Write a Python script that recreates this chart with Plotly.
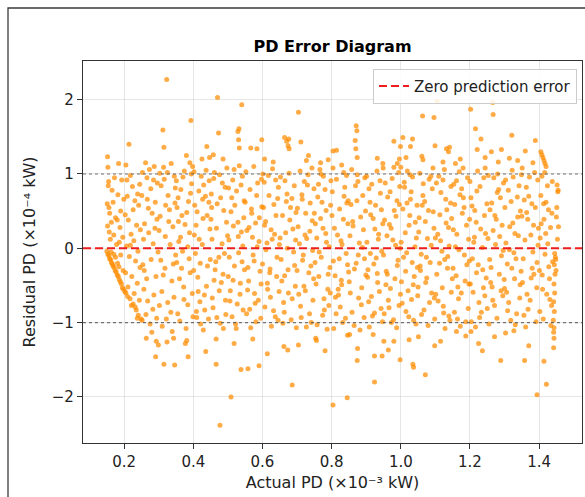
import plotly.graph_objects as go

# ---- data: Actual PD (x10^-3 kW) and residual PD (x10^-4 kW) ----
x_b01 = [0.152,0.153,0.155,0.154,0.151,0.156,0.158,0.152,0.157,0.160,0.163,0.168,0.170,0.175,0.178,0.184,0.182,0.188,0.190,0.193,0.196,0.199,0.186,0.172,0.165,0.180,
         0.150,0.153,0.156,0.158,0.161,0.163,0.166,0.168,0.171,0.174,0.177,0.180,0.183,0.186,0.189,0.192,0.195,0.198,
         0.162,0.175,0.181,0.190,0.197,0.185,0.170]
y_b01 = [1.23,1.09,0.90,0.84,0.60,0.55,0.47,0.30,0.22,0.12,0.35,0.62,0.18,0.41,0.05,1.14,0.72,0.28,0.50,0.92,0.15,0.66,0.08,0.95,0.78,0.38,
         -0.04,-0.08,-0.10,-0.14,-0.15,-0.19,-0.21,-0.24,-0.26,-0.30,-0.32,-0.36,-0.38,-0.42,-0.45,-0.48,-0.53,-0.55,
         -0.05,-0.12,-0.20,-0.09,-0.30,-0.25,-0.08]
x_b02 = [0.214,0.205,0.218,0.224,0.209,0.231,0.242,0.203,0.212,0.236,0.247,0.220,0.228,0.207,0.240,0.215,0.233,0.246,0.204,0.222,
         0.238,0.211,0.229,0.244,0.217,0.235,0.249,0.226,0.241,0.202,0.232,0.208,0.245,0.226,0.218,0.239,0.205,0.210,0.221,0.238]
y_b02 = [1.40,1.12,0.98,0.83,0.70,0.64,0.58,0.45,0.38,0.31,0.25,0.19,0.10,0.03,-0.04,-0.11,-0.17,-0.26,-0.33,-0.38,
         -0.47,-0.52,-0.61,-0.70,-0.68,-0.83,-0.95,-0.75,-0.90,-0.58,-0.79,0.92,0.86,0.52,0.04,0.73,-0.60,-0.65,-0.77,-0.94]
x_b03 = [0.262,0.281,0.254,0.296,0.268,0.287,0.259,0.275,0.292,0.251,0.284,0.266,0.299,0.271,0.257,0.290,0.278,0.263,0.295,
         0.253,0.286,0.270,0.264,0.293,0.291,0.277,0.256,0.283,0.298,0.265,0.273,0.289,0.252,0.280,0.267,0.294,0.258,0.285]
y_b03 = [1.15,0.47,-0.22,0.88,-0.71,1.10,0.33,-1.02,-0.38,0.71,0.06,0.95,-1.30,0.21,-0.55,0.62,-0.15,-0.89,0.39,
         1.02,-0.63,0.54,-1.21,-1.25,-1.46,0.80,0.12,-0.82,-0.05,-0.41,1.06,0.27,-0.97,-1.13,0.66,-0.94,-0.30,0.92]
x_b04 = [0.323,0.312,0.315,0.314,0.315,0.324,0.343,0.346,
         0.307,0.338,0.319,0.345,0.302,0.331,0.349,0.310,0.327,0.341,0.304,0.335,0.318,0.347,0.325,0.309,
         0.339,0.316,0.333,0.301,0.344,0.322,0.306,0.329,0.348,0.313,0.336,0.320,0.342,0.303,0.326]
y_b04 = [2.27,1.59,1.36,1.09,-1.56,-1.26,-1.21,-1.57,
         0.84,-0.44,0.16,0.97,-0.77,0.52,-0.09,-1.05,0.71,0.29,0.43,-0.86,-0.27,0.61,1.02,-0.58,
         -1.12,0.93,0.05,0.24,-0.66,-0.95,-0.16,0.36,0.81,-0.36,1.14,0.58,-0.21,1.01,-0.73]
x_b05 = [0.393,0.380,0.390,0.377,0.381,0.385,0.398,
         0.356,0.372,0.389,0.361,0.395,0.367,0.352,0.384,0.374,0.358,0.391,0.364,0.379,0.353,0.397,0.369,
         0.386,0.360,0.376,0.394,0.355,0.370,0.388,0.363,0.381,0.399,0.357,0.373,0.392,0.366,0.351,0.384]
y_b05 = [1.72,1.25,1.15,-1.28,-1.24,-1.46,1.10,
         0.68,-0.52,0.21,-0.98,0.87,0.44,-0.19,-0.76,1.04,0.09,-0.33,0.79,-1.08,0.55,-0.61,-0.04,
         0.63,-0.41,0.32,1.00,-0.88,0.96,-0.14,0.15,0.48,-0.92,0.36,-0.69,0.74,-0.27,0.91,0.02]
x_b06 = [0.439,0.436,0.425,0.447,
         0.404,0.432,0.417,0.446,0.409,0.428,0.441,0.402,0.421,0.435,0.413,0.448,0.406,0.430,0.419,0.444,0.411,
         0.426,0.438,0.401,0.416,0.449,0.423,0.408,0.433,0.445,0.414,0.429,0.403,0.440,0.420,0.437,0.410,0.427]
y_b06 = [1.37,-1.39,1.20,1.22,
         0.58,-0.63,0.12,0.91,-0.85,0.40,-0.24,1.03,-1.02,0.70,-0.39,0.26,-0.07,0.85,-0.72,-0.95,0.49,
         0.05,-0.51,-0.30,0.77,-0.15,0.97,0.31,-0.83,0.62,-0.58,-1.10,0.18,0.44,-0.20,1.05,-0.93,0.66]
x_b07 = [0.470,0.473,0.477,0.466,0.466,0.458,0.486,
         0.452,0.481,0.467,0.494,0.459,0.488,0.474,0.455,0.497,0.463,0.483,0.451,0.478,0.492,0.469,0.457,
         0.486,0.499,0.461,0.475,0.490,0.454,0.484,0.468,0.496,0.460,0.479,0.493,0.465,0.453,0.487,0.476]
y_b07 = [2.03,1.55,-2.38,-1.56,-1.22,1.26,1.20,
         0.73,-0.46,0.27,-0.89,0.94,0.51,-0.12,-0.67,1.08,-0.29,0.06,0.39,-1.01,0.82,0.60,-0.80,
         -0.35,0.17,1.02,-0.57,-0.07,0.12,0.88,-0.93,0.35,-0.43,0.68,-0.70,-0.18,0.55,-1.08,0.99]
x_b08 = [0.540,0.532,0.529,0.531,0.533,0.509,0.538,0.518,
         0.514,0.541,0.506,0.529,0.547,0.522,0.503,0.536,0.518,0.544,0.509,0.531,0.525,0.501,0.539,0.512,0.548,
         0.520,0.533,0.507,0.543,0.527,0.516,0.538,0.504,0.524,0.546,0.511,0.535,0.519,0.542,0.502,0.530,0.515]
y_b08 = [1.93,1.61,1.57,1.46,1.35,-2.00,-1.63,-1.28,
         0.92,-0.18,-0.71,0.35,0.64,-1.02,0.11,-0.47,1.06,-0.83,0.49,-0.06,0.77,-0.38,0.22,-0.92,-0.29,
         0.58,1.11,-0.57,0.03,-0.75,0.30,0.85,-0.12,-1.08,0.41,0.68,-0.62,-0.24,0.97,0.81,0.16,-0.43]
x_b09 = [0.566,0.584,0.598,0.558,0.590,0.572,
         0.583,0.558,0.595,0.569,0.552,0.577,0.590,0.563,0.586,0.555,0.573,0.598,0.566,0.580,0.560,0.593,
         0.575,0.550,0.588,0.571,0.597,0.557,0.581,0.564,0.591,0.576,0.554,0.585,0.568,0.596,0.561,0.579]
y_b09 = [1.35,1.34,1.46,-1.62,-1.58,-1.22,
         0.71,-0.26,-0.94,0.47,1.03,-0.61,0.09,-0.82,0.88,0.24,-0.09,0.56,-1.07,0.34,-0.44,-0.31,
         1.10,0.62,-0.70,0.15,0.93,-0.56,-0.99,0.79,0.41,-0.17,-0.88,0.02,0.53,-0.48,0.28,-0.74]
x_b10 = [0.614,0.606,0.631,
         0.621,0.644,0.605,0.632,0.613,0.639,0.626,0.600,0.648,0.617,0.609,0.635,0.642,0.623,0.603,0.629,0.614,
         0.646,0.637,0.607,0.625,0.641,0.619,0.610,0.633,0.601,0.645,0.628,0.615,0.638,0.606,0.649,0.622]
y_b10 = [-1.42,1.20,1.16,
         -0.33,0.67,0.89,-0.84,0.07,0.44,-1.05,-0.21,-0.58,0.98,0.36,0.19,-0.12,-0.66,0.55,1.07,-0.47,
         0.82,-0.92,-0.79,0.25,-0.38,0.71,-0.02,0.59,1.00,-0.97,0.12,-0.55,0.92,0.31,0.05,-0.28]
x_b11 = [0.664,0.670,0.676,0.674,0.677,0.662,0.673,0.686,
         0.688,0.661,0.677,0.654,0.695,0.669,0.683,0.658,0.692,0.674,0.651,0.686,0.665,0.698,0.679,
         0.656,0.671,0.690,0.663,0.681,0.696,0.652,0.675,0.667,0.693,0.659,0.685,0.672,0.697,0.664]
y_b11 = [1.49,1.44,1.47,1.38,1.34,-1.32,-1.37,-1.84,
         0.26,-0.73,1.01,-0.15,-0.51,0.63,-0.96,0.44,0.84,-0.29,0.14,-0.68,0.91,-1.07,0.38,
         -0.44,0.73,-0.05,-0.86,0.55,0.11,0.96,-0.60,0.21,-0.23,-1.01,0.67,0.00,0.48,-0.37]
x_b12 = [0.704,0.711,0.733,0.704,0.727,
         0.705,0.730,0.718,0.744,0.709,0.736,0.723,0.748,0.701,0.727,0.714,0.740,0.732,0.707,0.746,0.720,0.738,
         0.712,0.703,0.725,0.743,0.716,0.734,0.749,0.710,0.728,0.741,0.721,0.700,0.737,0.715,0.745,0.724]
y_b12 = [1.83,1.43,1.25,-1.30,1.18,
         -0.62,0.85,-0.09,0.37,1.04,-0.88,0.18,-0.41,0.54,-1.06,0.72,-0.24,0.99,0.06,-0.70,-0.51,0.61,
         -0.93,0.29,0.47,1.08,-0.16,-0.33,0.80,-0.78,0.13,-1.00,0.90,-0.30,0.23,0.66,-0.03,-0.57]
x_b13 = [0.754,0.756,0.781,0.790,0.768,
         0.792,0.753,0.776,0.763,0.785,0.797,0.758,0.770,0.781,0.750,0.789,0.766,0.795,0.774,0.760,0.783,0.755,
         0.778,0.798,0.768,0.787,0.752,0.772,0.793,0.762,0.779,0.757,0.790,0.769,0.796,0.784,0.764,0.775]
y_b13 = [-1.21,-1.24,-1.38,1.19,1.15,
         -0.77,0.33,0.97,-0.38,0.08,0.58,-1.03,-0.12,0.79,0.47,-0.55,1.06,-0.26,-0.90,0.69,0.20,-0.48,
         -0.68,0.91,0.40,-1.09,-0.19,0.62,0.02,0.86,-0.83,0.14,-0.35,1.00,-0.60,0.51,-0.05,0.27]
x_b14 = [0.804,0.845,0.804,0.814,0.846,0.829,
         0.817,0.840,0.802,0.828,0.847,0.811,0.835,0.822,0.806,0.844,0.830,0.814,0.849,0.825,0.801,0.838,0.819,
         0.808,0.842,0.832,0.804,0.823,0.846,0.813,0.836,0.827,0.810,0.843,0.820,0.834,0.805,0.848,0.829]
y_b14 = [-2.11,-2.01,1.31,1.32,-1.17,1.12,
         0.18,-0.94,0.76,-0.43,0.33,-0.66,1.02,-0.14,-1.08,0.61,0.05,0.93,-0.32,-0.79,0.44,0.82,-0.55,
         0.27,-0.07,-1.00,1.08,0.53,-0.22,-0.88,0.70,0.10,-0.37,0.98,-0.63,0.39,-0.17,0.64,-0.49]
x_b15 = [0.871,0.873,0.868,0.870,0.874,0.852,0.874,0.875,
         0.859,0.884,0.871,0.896,0.853,0.878,0.890,0.865,0.899,0.856,0.874,0.887,0.862,0.894,0.880,
         0.851,0.869,0.892,0.877,0.858,0.886,0.866,0.898,0.873,0.854,0.882,0.861,0.895,0.876,0.889]
y_b15 = [1.65,1.58,1.45,1.34,1.22,-1.16,-1.51,-1.35,
         -0.86,0.42,-0.20,0.95,0.17,-0.67,0.71,-1.04,-0.36,0.59,0.99,-0.53,0.30,-0.93,0.07,
         -0.45,0.84,0.25,-0.09,1.06,-0.76,-0.28,0.50,0.64,-0.60,-1.10,0.36,-0.14,0.90,0.01]
x_b16 = [0.924,0.924,0.946,0.920,0.948,0.932,
         0.927,0.904,0.943,0.916,0.935,0.909,0.948,0.922,0.901,0.938,0.913,0.931,0.945,0.907,0.925,0.941,0.918,
         0.902,0.933,0.947,0.911,0.929,0.940,0.920,0.905,0.936,0.915,0.944,0.924,0.908,0.932,0.949,0.912]
y_b16 = [-1.80,-1.45,-1.45,-1.16,1.14,1.21,
         0.58,-0.39,-0.81,0.86,0.12,-1.06,0.33,-0.21,0.97,-0.58,0.45,1.04,-0.04,-0.72,0.26,0.74,-0.91,
         0.08,-0.46,-0.99,0.62,-0.13,0.91,0.40,-0.29,0.19,-0.65,0.52,-0.87,0.80,-0.34,1.08,-0.07]
x_b17 = [0.951,0.964,0.980,0.998,0.980,0.999,0.996,0.990,
         0.990,0.962,0.979,0.953,0.997,0.970,0.985,0.958,0.994,0.966,0.981,0.950,0.975,0.999,0.960,0.988,0.972,
         0.955,0.983,0.964,0.996,0.977,0.952,0.992,0.969,0.986,0.957,0.980,0.998,0.973,0.961,0.989,0.967,0.995]
y_b17 = [-1.25,-1.37,-1.25,-1.50,1.44,1.37,1.20,1.14,
         -0.23,0.69,-0.96,0.38,0.83,-0.54,0.04,-0.31,1.02,-0.80,0.51,-0.09,0.94,-0.62,0.17,-1.07,0.27,
         0.88,-0.41,-0.70,0.59,0.11,-0.88,-0.16,0.76,0.43,-0.49,1.09,0.00,-1.00,-0.35,0.64,0.32,-0.77]
x_b18 = [1.006,1.034,1.028,1.015,1.035,1.037,1.024,
         1.006,1.031,1.019,1.045,1.002,1.037,1.024,1.011,1.048,1.028,1.015,1.041,1.008,1.034,1.021,1.000,1.044,
         1.026,1.013,1.039,1.004,1.030,1.047,1.017,1.036,1.010,1.023,1.042,1.001,1.033,1.018,1.049,1.027,1.014]
y_b18 = [1.49,1.47,1.37,1.22,-1.56,-1.60,-1.23,
         0.53,-0.69,1.04,0.14,-0.45,-0.97,0.31,0.82,-0.26,0.66,-0.85,0.02,-0.12,0.96,-0.57,1.09,-1.02,
         0.44,0.21,-0.38,-0.74,0.76,0.58,-0.06,-0.49,0.89,-0.92,0.35,0.08,-0.19,0.61,-0.64,0.99,-0.31]
x_b19 = [1.063,1.061,1.064,1.051,1.071,1.098,1.099,1.096,
         1.094,1.067,1.052,1.082,1.075,1.059,1.097,1.064,1.088,1.055,1.079,1.071,1.091,1.050,1.085,1.062,
         1.098,1.077,1.057,1.093,1.069,1.083,1.053,1.074,1.089,1.065,1.096,1.060,1.080,1.072,1.087,1.056]
y_b19 = [1.78,1.24,1.19,-1.19,-1.70,-1.31,1.38,1.76,
         0.49,-0.83,0.22,0.93,-0.40,-0.08,-0.67,0.71,0.04,1.01,-1.04,0.36,0.80,-0.52,-0.19,0.58,
         -0.95,0.13,-0.30,1.08,0.63,-0.73,0.41,-0.12,-0.60,0.87,0.27,-0.89,0.51,-0.46,0.97,-0.24]
x_b20 = [1.105,1.115,1.132,1.138,1.141,1.122,
         1.110,1.136,1.123,1.147,1.104,1.130,1.115,1.142,1.101,1.126,1.138,1.112,1.145,1.120,1.133,1.107,1.149,
         1.128,1.116,1.140,1.103,1.124,1.135,1.113,1.144,1.119,1.108,1.131,1.146,1.122,1.100,1.139,1.127]
y_b20 = [1.98,-1.25,1.34,1.30,1.36,1.16,
         0.97,-0.11,-0.78,0.40,-0.35,0.66,0.10,-0.97,-0.62,1.06,0.28,-0.20,0.83,-0.53,0.52,0.19,-0.41,
         -1.08,0.75,0.03,0.88,-0.87,-0.27,0.45,0.61,-0.04,-0.71,0.34,-0.59,0.92,0.14,-0.91,-0.15]
x_b21 = [1.161,1.172,1.188,1.158,
         1.175,1.153,1.190,1.164,1.198,1.181,1.158,1.186,1.169,1.195,1.151,1.178,1.162,1.193,1.172,1.156,1.184,
         1.167,1.199,1.176,1.160,1.188,1.152,1.180,1.165,1.196,1.171,1.191,1.155,1.183,1.168,1.197,1.161]
y_b21 = [-1.12,1.20,-1.18,1.14,
         -0.60,0.86,0.31,-0.95,-0.17,0.68,0.02,-0.44,1.03,-0.81,-0.27,0.47,0.19,0.95,-1.05,0.59,-0.09,
         -0.68,0.39,0.80,-0.37,-0.99,0.25,1.08,-0.52,0.12,0.72,-0.22,-0.86,0.55,-0.02,-0.48,0.91]
x_b22 = [1.202,1.216,1.232,1.221,1.225,1.236,1.203,1.244,
         1.218,1.243,1.204,1.229,1.211,1.237,1.249,1.222,1.201,1.233,1.214,1.245,1.207,1.226,1.240,1.216,
         1.203,1.231,1.247,1.220,1.209,1.236,1.224,1.242,1.200,1.228,1.213,1.239,1.206,1.244,1.219]
y_b22 = [1.87,1.61,1.47,1.33,-1.28,-1.38,-1.12,1.22,
         0.35,-0.64,-0.99,0.83,0.08,-0.29,0.60,1.04,-0.48,-0.86,0.51,0.20,-0.14,-0.73,0.95,-1.06,
         0.68,0.26,-0.40,0.77,-0.59,0.01,-0.22,0.44,0.90,-0.93,0.15,-0.53,0.57,1.08,-0.33]
x_b23 = [1.266,1.267,1.262,1.291,1.289,1.271,1.282,
         1.285,1.258,1.297,1.271,1.252,1.280,1.264,1.291,1.276,1.255,1.288,1.267,1.295,1.261,1.283,1.250,
         1.274,1.299,1.269,1.293,1.257,1.278,1.263,1.290,1.272,1.253,1.286,1.266,1.296,1.279,1.260]
y_b23 = [1.96,1.80,1.30,1.33,-1.51,-1.19,1.16,
         -0.35,0.52,0.88,-0.77,0.13,1.00,-0.52,-0.10,0.39,-1.02,0.68,0.24,-0.64,-0.26,0.79,-0.81,
         0.05,-0.42,0.95,0.31,-0.15,-0.94,0.61,-0.57,0.44,0.98,0.16,-0.70,-0.03,0.75,-0.46]
x_b24 = [1.321,1.303,1.314,1.327,1.338,
         1.312,1.338,1.325,1.304,1.345,1.319,1.331,1.308,1.342,1.327,1.301,1.335,1.315,1.348,1.322,1.306,
         1.340,1.329,1.311,1.346,1.318,1.333,1.303,1.324,1.344,1.314,1.337,1.309,1.330,1.349,1.321,1.300]
y_b24 = [1.52,-1.14,1.21,-1.11,1.18,
         -0.73,0.42,0.96,0.07,-0.49,0.63,-1.03,-0.21,0.84,-0.06,0.55,-0.88,0.29,-0.31,1.05,-0.59,
         0.17,-0.41,0.78,0.50,-0.97,-0.14,0.92,0.34,-0.67,-0.02,0.69,-0.84,0.20,0.99,-0.27,-0.54]
x_b25 = [1.358,1.370,1.360,1.389,1.394,1.382,
         1.379,1.356,1.394,1.367,1.387,1.352,1.374,1.398,1.363,1.382,1.359,1.391,1.370,1.350,1.385,1.365,
         1.396,1.376,1.354,1.389,1.361,1.380,1.397,1.372,1.357,1.393,1.368,1.384,1.351,1.377,1.364]
y_b25 = [-1.51,-1.31,1.31,1.45,-1.97,1.15,
         0.60,-0.90,-0.19,0.39,1.02,-0.46,-0.70,0.27,0.82,-0.05,0.11,-0.99,0.70,0.43,-0.35,-0.62,
         0.92,0.18,-0.14,0.55,-1.06,-0.27,0.04,0.96,0.65,-0.53,-0.82,0.31,1.08,-0.40,0.48]
x_b26 = [1.405,1.408,1.411,1.414,1.417,1.420,1.414,1.421,
         1.441,1.443,1.442,1.443,1.442,1.444,1.442,1.445,1.443,1.446,1.444,1.447,1.445,1.448,
         1.452,1.455,1.454,1.450,1.456,1.451,1.453,1.449,
         1.422,1.405,1.433,1.412,1.438,1.401,1.427,1.417,1.408,1.436,1.414,1.430,1.403,1.424,
         1.439,1.410,1.420,1.434,1.406,1.428,1.416,1.437,1.402,1.425,1.413,1.431,1.419,1.409]
y_b26 = [1.30,1.26,1.22,1.18,1.14,1.10,-1.52,-1.83,
         -0.97,-1.07,-1.13,-1.21,-1.34,-0.85,-0.72,-0.60,-0.48,-0.35,-0.22,-0.12,-0.07,-0.15,
         0.85,0.78,0.76,0.42,0.29,0.55,0.12,-0.30,
         -0.62,0.71,0.28,-0.95,0.90,-0.30,0.52,-0.08,0.97,-0.77,0.39,-0.41,0.14,0.84,
         -0.18,-0.55,0.62,-1.04,0.33,-0.25,1.02,0.47,-0.85,0.06,0.60,-0.69,0.20,-0.36]

bands = [(x_b01, y_b01), (x_b02, y_b02), (x_b03, y_b03), (x_b04, y_b04), (x_b05, y_b05),
         (x_b06, y_b06), (x_b07, y_b07), (x_b08, y_b08), (x_b09, y_b09), (x_b10, y_b10),
         (x_b11, y_b11), (x_b12, y_b12), (x_b13, y_b13), (x_b14, y_b14), (x_b15, y_b15),
         (x_b16, y_b16), (x_b17, y_b17), (x_b18, y_b18), (x_b19, y_b19), (x_b20, y_b20),
         (x_b21, y_b21), (x_b22, y_b22), (x_b23, y_b23), (x_b24, y_b24), (x_b25, y_b25),
         (x_b26, y_b26)]

actual_pd, residual_pd = [], []
for bx, by in bands:
    n = min(len(bx), len(by))
    actual_pd += bx[:n]
    residual_pd += by[:n]

x_ticks = [0.2, 0.4, 0.6, 0.8, 1.0, 1.2, 1.4]
y_ticks = [-2, -1, 0, 1, 2]
x_range = [0.081, 1.524]
y_range = [-2.62, 2.52]

FONT = "DejaVu Sans"

fig = go.Figure()
fig.add_trace(go.Scatter(
    x=actual_pd, y=residual_pd, mode="markers", showlegend=False,
    marker=dict(size=5, color="rgb(255,140,0)", opacity=0.72, line=dict(width=0)),
    hoverinfo="skip",
))

shapes = [
    # figure frame
    dict(type="rect", xref="paper", yref="paper", x0=-0.1503, x1=1.2, y0=-0.4, y1=1.1387,
         line=dict(color="#3a3a3a", width=1.3), layer="below"),
    # +/-1 dotted reference lines
    dict(type="line", xref="paper", yref="y", x0=0, x1=1, y0=1, y1=1,
         line=dict(color="rgba(90,90,90,0.85)", width=1.1, dash="dot")),
    dict(type="line", xref="paper", yref="y", x0=0, x1=1, y0=-1, y1=-1,
         line=dict(color="rgba(90,90,90,0.85)", width=1.1, dash="dot")),
    # zero prediction error
    dict(type="line", xref="paper", yref="y", x0=0, x1=1, y0=0, y1=0,
         line=dict(color="#ee1c1c", width=2, dash="8px,4px"),
         showlegend=True, name="Zero prediction error"),
]

fig.update_layout(
    width=585, height=497,
    margin=dict(l=83, r=3, t=61, b=54),
    paper_bgcolor="white", plot_bgcolor="white",
    font=dict(family=FONT, size=15, color="#222"),
    title=dict(text="<b>PD Error Diagram</b>", x=0.5, xref="paper", xanchor="center",
               y=1 - 46 / 497, yref="container", yanchor="middle",
               font=dict(family=FONT, size=16, color="black")),
    shapes=shapes,
    legend=dict(x=0.99, y=0.98, xanchor="right", yanchor="top",
                bgcolor="rgba(255,255,255,0.85)", bordercolor="#cccccc", borderwidth=1,
                font=dict(family=FONT, size=15, color="#222")),
    showlegend=True,
)
fig.update_xaxes(
    range=x_range, tickvals=x_ticks, tickformat=".1f",
    showgrid=True, gridcolor="rgba(200,200,200,0.45)", gridwidth=1, zeroline=False,
    showline=True, linecolor="#333", linewidth=1.3, mirror=True,
    ticks="outside", ticklen=5, tickcolor="#333", tickwidth=1.2,
    tickfont=dict(family=FONT, size=15, color="#222"),
    title=dict(text="Actual PD (×10⁻³ kW)", font=dict(family=FONT, size=16, color="#222"), standoff=6),
)
fig.update_yaxes(
    range=y_range, tickvals=y_ticks,
    showgrid=True, gridcolor="rgba(200,200,200,0.45)", gridwidth=1, zeroline=False,
    showline=True, linecolor="#333", linewidth=1.3, mirror=True,
    ticks="outside", ticklen=5, tickcolor="#333", tickwidth=1.2,
    tickfont=dict(family=FONT, size=15, color="#222"),
    title=dict(text="Residual PD (×10⁻⁴ kW)", font=dict(family=FONT, size=16, color="#222"), standoff=12),
)

fig.write_html("out.html")
